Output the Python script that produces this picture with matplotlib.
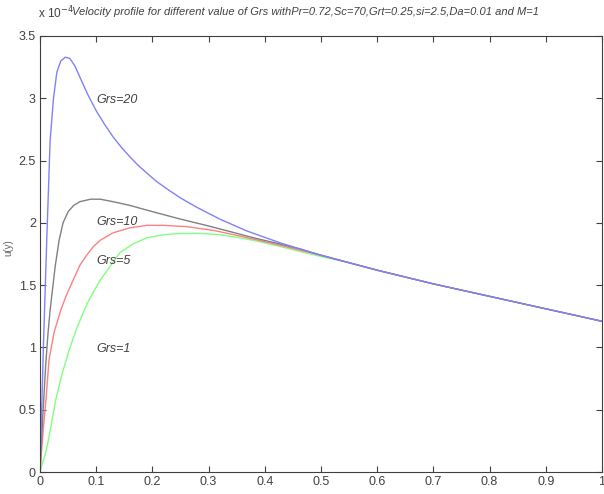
import matplotlib.pyplot as plt

plt.rcParams['font.family'] = ['Liberation Sans', 'DejaVu Sans']

# velocity profiles (values in units of 1e-4)
x_grs20 = [0, 0.006, 0.012, 0.018, 0.024, 0.03, 0.037, 0.045, 0.053, 0.062, 0.071, 0.085,
           0.1, 0.115, 0.13, 0.145, 0.16, 0.175, 0.19, 0.208, 0.23, 0.25, 0.279, 0.32,
           0.368, 0.427, 0.463, 0.5, 0.55, 0.6, 0.7, 0.8, 0.9, 1.0]
u_grs20 = [0, 1.0, 1.86, 2.66, 3.0, 3.21, 3.3, 3.33, 3.32, 3.26, 3.17, 3.03,
           2.9, 2.79, 2.69, 2.605, 2.53, 2.46, 2.40, 2.33, 2.26, 2.20, 2.125, 2.03,
           1.935, 1.84, 1.79, 1.74, 1.68, 1.62, 1.51, 1.41, 1.31, 1.21]

x_grs10 = [0, 0.005, 0.01, 0.014, 0.018, 0.027, 0.034, 0.041, 0.05, 0.06, 0.071, 0.09,
           0.107, 0.13, 0.16, 0.2, 0.25, 0.3, 0.338, 0.38, 0.427, 0.463, 0.5, 0.55,
           0.6, 0.7, 0.8, 0.9, 1.0]
u_grs10 = [0, 0.45, 0.85, 1.1, 1.30, 1.65, 1.86, 2.0, 2.09, 2.14, 2.17, 2.19,
           2.19, 2.17, 2.14, 2.09, 2.03, 1.975, 1.93, 1.88, 1.83, 1.79, 1.74, 1.68,
           1.62, 1.51, 1.41, 1.31, 1.21]

x_grs5 = [0, 0.005, 0.011, 0.016, 0.025, 0.037, 0.047, 0.057, 0.071, 0.083, 0.095, 0.107,
          0.13, 0.16, 0.19, 0.219, 0.26, 0.308, 0.36, 0.427, 0.463, 0.5, 0.55,
          0.6, 0.7, 0.8, 0.9, 1.0]
u_grs5 = [0, 0.3, 0.6, 0.9, 1.12, 1.30, 1.42, 1.52, 1.66, 1.74, 1.81, 1.86,
          1.92, 1.96, 1.98, 1.98, 1.97, 1.94, 1.89, 1.82, 1.78, 1.74, 1.68,
          1.62, 1.51, 1.41, 1.31, 1.21]

x_grs1 = [0, 0.005, 0.011, 0.016, 0.028, 0.04, 0.052, 0.065, 0.077, 0.087, 0.107, 0.12,
          0.142, 0.165, 0.19, 0.22, 0.25, 0.285, 0.32, 0.356, 0.39, 0.427, 0.463, 0.5, 0.55,
          0.6, 0.7, 0.8, 0.9, 1.0]
u_grs1 = [0, 0.08, 0.17, 0.28, 0.58, 0.8, 0.98, 1.15, 1.28, 1.38, 1.54, 1.62,
          1.76, 1.83, 1.88, 1.905, 1.915, 1.915, 1.905, 1.88, 1.85, 1.81, 1.77, 1.73, 1.68,
          1.62, 1.51, 1.41, 1.31, 1.21]

labels = ['Grs=20', 'Grs=10', 'Grs=5', 'Grs=1']
label_y = [2.99, 2.01, 1.69, 0.99]

fig = plt.figure(figsize=(6.04, 4.94), dpi=100)
ax = fig.add_axes([40 / 604, 22 / 494, 562 / 604, 436 / 494])

ax.plot(x_grs1, u_grs1, color='#80ff80', lw=1)
ax.plot(x_grs5, u_grs5, color='#ff8080', lw=1)
ax.plot(x_grs10, u_grs10, color='#808080', lw=1)
ax.plot(x_grs20, u_grs20, color='#8080ff', lw=1)

for lab, yy in zip(labels, label_y):
    ax.text(0.101, yy, lab, fontsize=9, style='italic', color='#404040', va='center')

ax.set_xlim(0, 1)
ax.set_ylim(0, 3.5)
ax.set_xticks([i / 10 for i in range(11)])
ax.set_xticklabels(['0', '0.1', '0.2', '0.3', '0.4', '0.5', '0.6', '0.7', '0.8', '0.9', '1'])
ax.set_yticks([0, 0.5, 1, 1.5, 2, 2.5, 3, 3.5])
ax.set_yticklabels(['0', '0.5', '1', '1.5', '2', '2.5', '3', '3.5'])
ax.tick_params(direction='in', top=True, right=True, length=4, labelsize=9,
               colors='#404040', pad=3)
for s in ax.spines.values():
    s.set_color('#404040')
    s.set_linewidth(0.8)

fig.text(38 / 604, 1 - 13 / 494, 'x 10$^{-4}$', fontsize=8.5, color='#404040', va='center')
fig.text(72 / 604, 1 - 12 / 494,
         'Velocity profile for different value of Grs withPr=0.72,Sc=70,Grt=0.25,si=2.5,Da=0.01 and M=1',
         fontsize=8, style='italic', color='#404040', va='center')
fig.text(8 / 604, 1 - 248 / 494, 'u(y)', fontsize=7, color='#606060', rotation=90,
         va='center', ha='center')

fig.savefig('out.png', dpi=100)
